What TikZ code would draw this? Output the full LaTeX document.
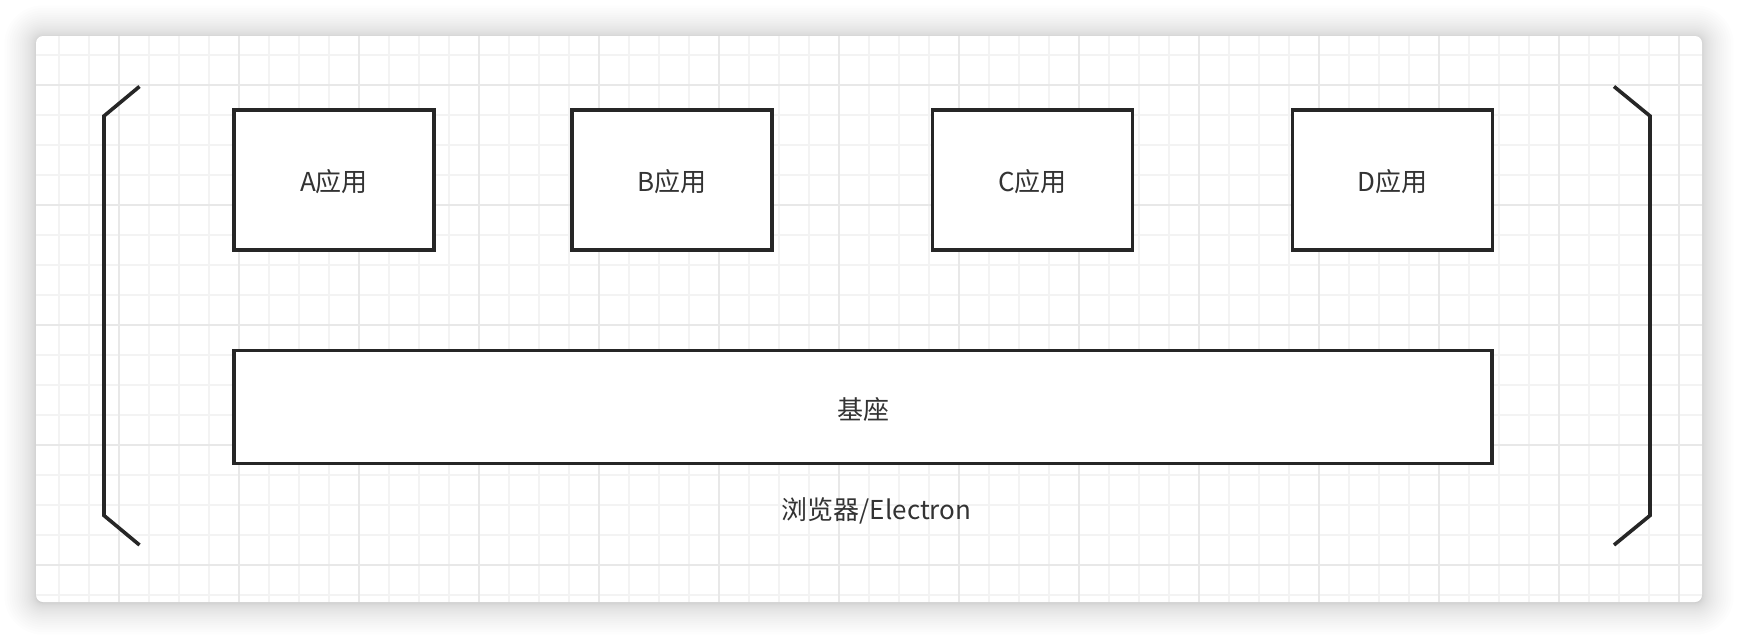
\documentclass[tikz,border=0pt]{standalone}
\usepackage{fontspec}
\setmainfont{Noto Sans CJK SC}
\definecolor{linec}{HTML}{262626}
\definecolor{textc}{HTML}{333333}
\definecolor{gridminor}{HTML}{F3F3F3}
\definecolor{gridmajor}{HTML}{E8E8E8}
\tikzset{
  appbox/.style={draw=linec, line width=3.6pt, fill=white, minimum width=200pt, minimum height=140pt,
    inner sep=0pt, outer sep=0pt, text=textc, font=\fontsize{26}{30}\selectfont},
  basebox/.style={draw=linec, line width=3.6pt, fill=white, minimum width=1258pt, minimum height=113pt,
    inner sep=0pt, outer sep=0pt, text=textc, font=\fontsize{26}{30}\selectfont},
  plainlabel/.style={text=textc, inner sep=0pt, font=\fontsize{26}{30}\selectfont},
  bracket/.style={draw=linec, line width=3.6pt, line join=miter},
  gminor/.style={draw=gridminor, line width=1.1pt},
  gmajor/.style={draw=gridmajor, line width=1.1pt},
}
\begin{document}
\begin{tikzpicture}[x=1pt,y=-1pt]
\useasboundingbox (0,0) rectangle (1738,638);
\fill[white] (0,0) rectangle (1738,638);
% shadow
\foreach \i in {1,...,24}{
  \pgfmathsetmacro\d{0.055*\i*\i}
  \pgfmathsetmacro\r{7+\d}
  \fill[black, opacity=0.0075, rounded corners=\r pt] (36-\d,37-\d) rectangle (1702+\d,603+\d);
}
% panel
\fill[white, rounded corners=7pt] (36,36) rectangle (1702,602);
\begin{scope}
  \clip[rounded corners=7pt] (36,36) rectangle (1702,602);
  \foreach \x in {59,89,...,1700} \draw[gminor] (\x,36) -- (\x,602);
  \foreach \y in {55,85,...,600} \draw[gminor] (36,\y) -- (1702,\y);
  \foreach \x in {119,239,...,1700} \draw[gmajor] (\x,36) -- (\x,602);
  \foreach \y in {85,205,...,600} \draw[gmajor] (36,\y) -- (1702,\y);
\end{scope}
% brackets
\coordinate (lt) at (139.5,86.5);
\coordinate (lc1) at (104,116);
\coordinate (lc2) at (104,515.5);
\coordinate (lb) at (139.5,545);
\coordinate (rt) at (1614,86.5);
\coordinate (rc1) at (1650,116);
\coordinate (rc2) at (1650,515.5);
\coordinate (rb) at (1614,545);
\draw[bracket] (lt) -- (lc1) -- (lc2) -- (lb);
\draw[bracket] (rt) -- (rc1) -- (rc2) -- (rb);
% boxes
\node[appbox] (a) at (334,180) {};
\node[appbox] (b) at (672,180) {};
\node[appbox] (c) at (1032.4,180) {};
\node[appbox] (d) at (1392.4,180) {};
\node[basebox] (base) at (863,407) {};
\node[plainlabel] at ([yshift=-2pt]a.center) {A应用};
\node[plainlabel] at ([yshift=-2pt]b.center) {B应用};
\node[plainlabel] at ([yshift=-2pt]c.center) {C应用};
\node[plainlabel] at ([yshift=-2pt]d.center) {D应用};
\node[plainlabel] at ([yshift=-2pt]base.center) {基座};
\node[plainlabel] (env) at (876.5,511) {浏览器/Electron};
\end{tikzpicture}
\end{document}
